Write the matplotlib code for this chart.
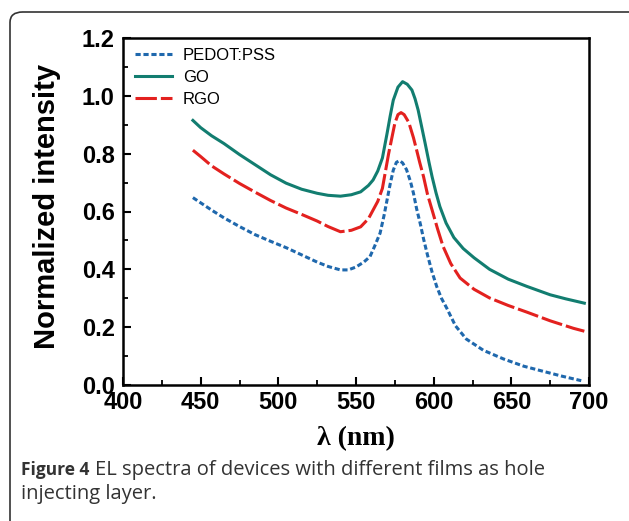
import numpy as np
import matplotlib
matplotlib.use("Agg")
import matplotlib.pyplot as plt
from matplotlib.patches import FancyBboxPatch
from matplotlib.ticker import MultipleLocator

# values (wavelength in nm, normalized intensity)
wl_pedot = [445, 450, 457, 465, 475, 485, 495, 505, 515, 525, 532, 540, 545, 550, 555, 559, 562,
            565.5, 568, 570, 572, 574, 576, 578, 580, 582.5, 585, 587, 589, 591.5, 593.5, 596,
            599, 602, 605, 608.5, 614, 621, 632, 645, 658, 670, 683, 695]
int_pedot = [0.648, 0.630, 0.605, 0.578, 0.548, 0.520, 0.497, 0.475, 0.450, 0.425, 0.410, 0.398,
             0.398, 0.408, 0.425, 0.444, 0.480, 0.525, 0.585, 0.640, 0.695, 0.743, 0.770, 0.776,
             0.768, 0.745, 0.705, 0.663, 0.610, 0.555, 0.505, 0.450, 0.390, 0.340, 0.300, 0.265,
             0.205, 0.159, 0.120, 0.090, 0.065, 0.048, 0.030, 0.015]

wl_go = [445, 450, 457, 465, 475, 485, 495, 505, 515, 525, 532, 540, 547, 553, 558, 561, 564,
         567, 570, 572, 574, 577, 580, 583, 586, 588, 590, 592, 594.5, 597, 599, 601.5, 604, 608,
         613, 619, 626, 636, 648, 660, 675, 685, 697]
int_go = [0.915, 0.890, 0.862, 0.835, 0.797, 0.762, 0.727, 0.698, 0.677, 0.663, 0.656, 0.653,
          0.658, 0.668, 0.690, 0.709, 0.740, 0.785, 0.870, 0.930, 0.985, 1.030, 1.049, 1.040,
          1.020, 0.990, 0.951, 0.900, 0.836, 0.770, 0.720, 0.665, 0.617, 0.560, 0.510, 0.472,
          0.440, 0.400, 0.366, 0.341, 0.312, 0.298, 0.283]

wl_rgo = [445, 450, 457, 465, 475, 485, 495, 505, 515, 525, 532, 540, 547, 553, 558, 561, 564,
          567, 571, 575, 577, 579, 581, 584, 587, 589, 591, 593.5, 596, 599, 602.5, 606, 611, 617,
          626, 636, 648, 660, 675, 690, 697]
int_rgo = [0.812, 0.790, 0.758, 0.730, 0.697, 0.667, 0.638, 0.612, 0.590, 0.567, 0.548, 0.530,
           0.535, 0.547, 0.575, 0.605, 0.635, 0.680, 0.800, 0.905, 0.935, 0.942, 0.935, 0.908,
           0.855, 0.813, 0.770, 0.720, 0.660, 0.605, 0.540, 0.480, 0.420, 0.370, 0.331, 0.301,
           0.275, 0.252, 0.222, 0.196, 0.186]

blue = "#1f68ad"
teal = "#127d70"
red = "#e3211f"

plt.rcParams['font.family'] = ['Liberation Sans', 'DejaVu Sans']

fig = plt.figure(figsize=(6.29, 5.21), dpi=100)

# rounded frame around the figure panel (runs off right and bottom edge)
frame = FancyBboxPatch((10 / 629, -0.1), 1.2, 1 - 12 / 521 + 0.1,
                       boxstyle="round,pad=0,rounding_size=0.02",
                       transform=fig.transFigure, fill=False, edgecolor="#333333",
                       linewidth=1.2, clip_on=False)
fig.patches.append(frame)

ax = fig.add_axes([123 / 629, 1 - 385 / 521, (589 - 123) / 629, (385 - 38) / 521])

ax.plot(wl_pedot, int_pedot, color=blue, lw=2.2, linestyle=(0, (1.7, 0.9)), label="PEDOT:PSS")
ax.plot(wl_go, int_go, color=teal, lw=2.2, label="GO")
ax.plot(wl_rgo, int_rgo, color=red, lw=2.2, linestyle=(0, (7, 1.3)), label="RGO")

ax.set_xlim(400, 700)
ax.set_ylim(0.0, 1.2)
ax.xaxis.set_major_locator(MultipleLocator(50))
ax.xaxis.set_minor_locator(MultipleLocator(25))
ax.yaxis.set_minor_locator(MultipleLocator(0.1))
ax.set_yticks(np.arange(0, 1.21, 0.2))
ax.set_yticklabels(["0.0", "0.2", "0.4", "0.6", "0.8", "1.0", "1.2"])

ax.tick_params(which="major", direction="in", length=6, width=1.5, labelsize=17)
ax.tick_params(axis="y", which="major", pad=6)
ax.tick_params(axis="x", which="major", pad=4)
ax.tick_params(which="minor", direction="in", length=3.5, width=1.3)
for lab in ax.get_xticklabels() + ax.get_yticklabels():
    lab.set_fontweight("bold")
for sp in ax.spines.values():
    sp.set_linewidth(1.8)

ax.set_ylabel("Normalized intensity", fontsize=21, fontweight="bold")
ax.yaxis.set_label_coords(-0.133, 0.515)
ax.set_xlabel("λ (nm)", fontsize=20, fontweight="bold",
              family=["Liberation Serif", "DejaVu Serif"])
ax.xaxis.set_label_coords(0.5, -0.118)

ax.legend(loc="upper left", frameon=False, fontsize=12, handlelength=2.2,
          borderaxespad=0, borderpad=0, labelspacing=0.42, handletextpad=0.66,
          bbox_to_anchor=(0.026, 0.972))

# caption
cap_font = ["Open Sans", "DejaVu Sans"]
fig.text(21 / 629, 1 - 475 / 521, "Figure 4", fontsize=12.5, fontweight="bold",
         family=cap_font, color="#333333", va="baseline")
fig.text(95 / 629, 1 - 475 / 521, "EL spectra of devices with different films as hole",
         fontsize=14.5, family=cap_font, color="#333333", va="baseline")
fig.text(21 / 629, 1 - 499 / 521, "injecting layer.", fontsize=14.5,
         family=cap_font, color="#333333", va="baseline")

fig.savefig("out.png", dpi=100)
